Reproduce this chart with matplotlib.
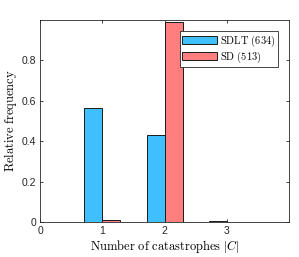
import numpy as np
import matplotlib
matplotlib.use("Agg")
import matplotlib.pyplot as plt

plt.rcParams['mathtext.fontset'] = 'cm'
plt.rcParams['font.family'] = ['Liberation Sans', 'DejaVu Sans']

categories = [1, 2, 3]
sdlt = [0.563, 0.430, 0.006]
sd = [0.012, 0.990, 0.0]
labels = [r"$\mathrm{SDLT\ (634)}$", r"$\mathrm{SD\ (513)}$"]

BLUE = "#40bfff"
RED = "#ff7f7f"

fig = plt.figure(figsize=(2.99, 2.57), dpi=100)
ax = fig.add_axes([0.134, 0.136, 0.833, 0.786])

w = 0.29
x = np.array(categories)
ax.bar(x - w / 2, sdlt, width=w, color=BLUE, edgecolor="#1a1a1a", linewidth=0.7, label=labels[0])
ax.bar(x + w / 2, sd, width=w, color=RED, edgecolor="#1a1a1a", linewidth=0.7, label=labels[1])

ax.set_xlim(0, 4)
ax.set_ylim(0, 1)
ax.set_xticks([0, 1, 2, 3])
ax.set_yticks([0, 0.2, 0.4, 0.6, 0.8])
ax.set_yticklabels(["0", "0.2", "0.4", "0.6", "0.8"])
ax.tick_params(direction="in", top=True, right=True, labelsize=7.5, length=2.5,
               width=0.6, colors="#262626", pad=3)
for s in ax.spines.values():
    s.set_linewidth(0.6)
    s.set_color("#262626")

ax.set_xlabel(r"$\mathrm{Number\ of\ catastrophes}\ |C|$", fontsize=9, labelpad=1)
ax.set_ylabel(r"$\mathrm{Relative\ frequency}$", fontsize=9, labelpad=2)

leg = ax.legend(loc="upper right", bbox_to_anchor=(0.955, 0.945), fontsize=7.5,
                handlelength=3.4, handleheight=0.8, handletextpad=0.3,
                borderpad=0.2, labelspacing=0.08, borderaxespad=0.0,
                fancybox=False, framealpha=1)
leg.get_frame().set_edgecolor("#262626")
leg.get_frame().set_linewidth(0.6)

fig.savefig("out.png", dpi=100)
